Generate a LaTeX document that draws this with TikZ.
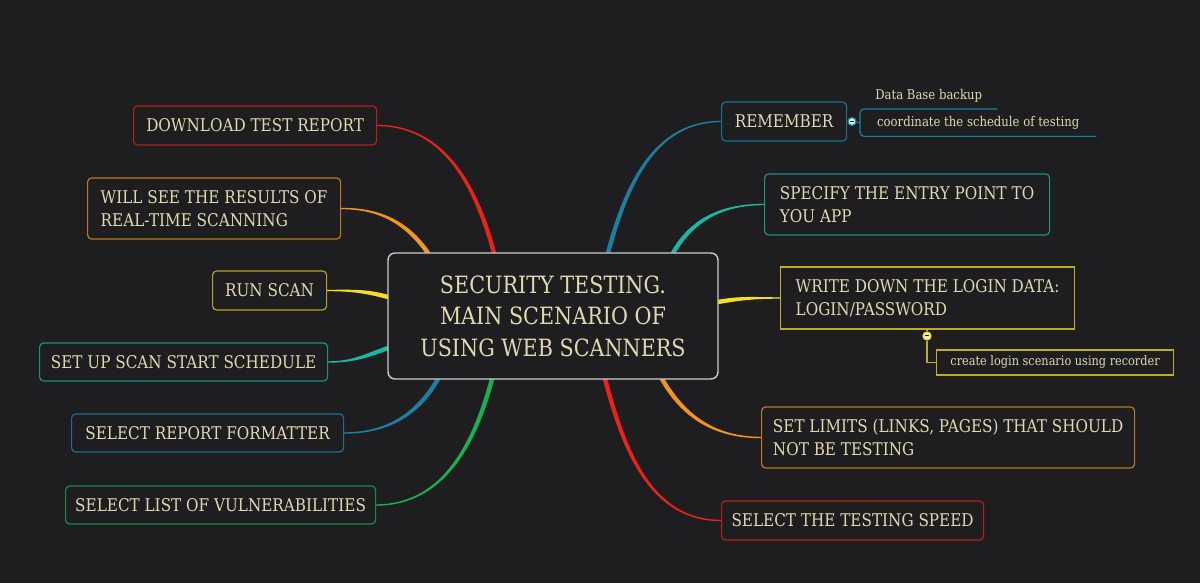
\documentclass[tikz,border=0pt]{standalone}
\usepackage{fontspec}
\setmainfont{DejaVu Serif}[FakeStretch=0.87]
\usetikzlibrary{calc}
\definecolor{bg}{RGB}{30,30,32}
\definecolor{ink}{RGB}{226,216,176}
\definecolor{cred}{RGB}{232,35,26}
\definecolor{corange}{RGB}{240,150,30}
\definecolor{cyellow}{RGB}{245,220,40}
\definecolor{cteal}{RGB}{26,184,160}
\definecolor{cblue}{RGB}{26,127,160}
\definecolor{cgreen}{RGB}{24,176,80}
\begin{document}
\begin{tikzpicture}[x=1pt,y=1pt,
  topic/.style={draw,rounded corners=4pt,fill=bg,text=ink,line width=1.2pt,
    font=\fontsize{17.5}{23}\selectfont,align=left,anchor=west,minimum height=39pt},
  note/.style={text=ink,font=\fontsize{13.4}{15}\selectfont,inner sep=0pt},
  fold/.style={circle,fill=ink!60!white,line width=1.2pt,inner sep=0pt,minimum size=8pt}]
  \fill[bg] (0,0) rectangle (1200,583);
  % left side
  \node[topic,draw=cred!75!bg,minimum width=243pt] (dl) at (133,457.5) {DOWNLOAD TEST REPORT};
  \node[topic,draw=corange!75!bg,minimum width=253pt,minimum height=61pt] (rt) at (87,374.5) {WILL SEE THE RESULTS OF\\REAL-TIME SCANNING};
  \node[topic,draw=cyellow!70!bg,minimum width=114pt] (run) at (212,292.5) {RUN SCAN};
  \node[topic,draw=cteal!75!bg,minimum width=288pt,minimum height=38pt] (sched) at (39,221) {SET UP SCAN START SCHEDULE};
  \node[topic,draw=cblue!85!bg,minimum width=272pt,minimum height=38pt] (fmt) at (71,150) {SELECT REPORT FORMATTER};
  \node[topic,draw=cgreen!75!bg,minimum width=310pt,minimum height=38pt] (vuln) at (65,78) {SELECT LIST OF VULNERABILITIES};
  % right side
  \node[topic,draw=cblue!85!bg,minimum width=125pt] (rem) at (721,461.5) {REMEMBER};
  \node[topic,draw=cteal!75!bg,minimum width=285pt,minimum height=61pt] (entry) at (764,378.5) {SPECIFY THE ENTRY POINT TO\\YOU APP};
  \node[topic,draw=cyellow!75!bg,sharp corners,minimum width=294pt,minimum height=62pt] (login) at (780,285) {WRITE DOWN THE LOGIN DATA:\\LOGIN/PASSWORD};
  \node[topic,draw=corange!75!bg,minimum width=373pt,minimum height=61pt] (limits) at (761,145.5) {SET LIMITS (LINKS, PAGES) THAT SHOULD\\NOT BE TESTING};
  \node[topic,draw=cred!75!bg,minimum width=262pt] (speed) at (721,62.5) {SELECT THE TESTING SPEED};
  % where the branches meet the main topic
  \coordinate (pdl) at (494,330);
  \coordinate (prt) at (428,330);
  \coordinate (prun) at (388,286);
  \coordinate (psched) at (388,235);
  \coordinate (pfmt) at (438,204);
  \coordinate (pvuln) at (492,204);
  \coordinate (prem) at (608,330);
  \coordinate (pentry) at (673,330);
  \coordinate (plogin) at (718,281);
  \coordinate (plimits) at (662,204);
  \coordinate (pspeed) at (605,204);
  \foreach \n/\p/\o/\a/\c in {dl/pdl/0/105/cred, rt/prt/0/125/corange, run/prun/0/165/cyellow,
      sched/psched/0/200/cteal, fmt/pfmt/0/240/cblue, vuln/pvuln/0/255/cgreen,
      rem/prem/180/75/cblue, entry/pentry/180/60/cteal, login/plogin/180/10/cyellow,
      limits/plimits/180/300/corange, speed/pspeed/180/285/cred}
    \fill[\c] ($(\n.\o)+({\o+90}:0.7)$) to[out=\o,in=\a] ($(\p)+({\a-90}:2.2)$)
      -- ($(\p)+({\a+90}:2.2)$) to[out=\a,in=\o] ($(\n.\o)+({\o-90}:0.7)$) -- cycle;
  \node[draw=white!80!black,line width=1.4pt,rounded corners=7pt,fill=bg,text=ink,
    minimum width=330pt,minimum height=126pt,align=center,
    font=\fontsize{23.8}{31.5}\selectfont] (main) at (553,267)
    {SECURITY TESTING.\\MAIN SCENARIO OF\\USING WEB SCANNERS};
  % sub topics
  \node[fold,draw=cblue] (remdot) at (852,461.5) {};
  \draw[bg,line width=1pt] ($(remdot)+(-2,0)$) -- ($(remdot)+(2,0)$);
  \node[note,anchor=south west,minimum width=137pt,minimum height=26pt] (db) at (860,474) {Data Base backup};
  \node[note,anchor=north west,minimum width=236pt,minimum height=27pt] (coord) at (860,474) {coordinate the schedule of testing};
  \draw[cblue,line width=1.2pt,rounded corners=4pt] (db.south east) -- (db.south west) -- (coord.south west) -- (coord.south east);
  \draw[cblue,line width=1.2pt] (remdot) -- (coord.west);
  \node[note,draw=cyellow!75!bg,line width=1.2pt,anchor=west,minimum width=237pt,minimum height=25pt,font=\fontsize{13}{15}\selectfont] (rec) at (936,220.5) {create login scenario using recorder};
  \node[fold,draw=cyellow] (logdot) at (927,247) {};
  \draw[bg,line width=1pt] ($(logdot)+(-2,0)$) -- ($(logdot)+(2,0)$);
  \draw[cyellow!75!bg,line width=1.2pt] (logdot) |- (rec.west);
  \draw[cyellow!75!bg,line width=1.2pt] (login.south -| logdot) -- (logdot);
\end{tikzpicture}
\end{document}
